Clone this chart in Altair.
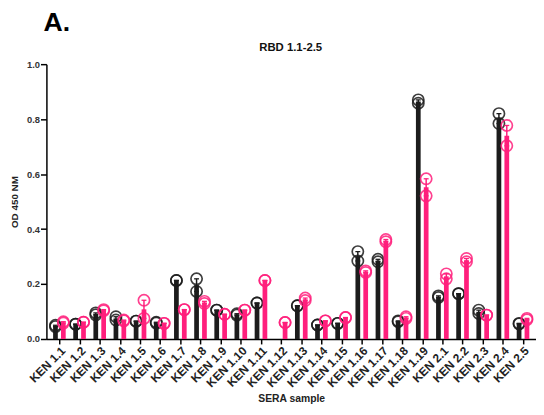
import json
import altair as alt
import pandas as pd

samples = ["KEN 1.1", "KEN 1.2", "KEN 1.3", "KEN 1.4", "KEN 1.5", "KEN 1.6", "KEN 1.7",
           "KEN 1.8", "KEN 1.9", "KEN 1.10", "KEN 1.11", "KEN 1.12", "KEN 1.13", "KEN 1.14",
           "KEN 1.15", "KEN 1.16", "KEN 1.17", "KEN 1.18", "KEN 1.19", "KEN 2.1", "KEN 2.2",
           "KEN 2.3", "KEN 2.4", "KEN 2.5"]

black_rep1 = [0.045, 0.054, 0.088, 0.081, 0.065, 0.061, 0.213, 0.219, 0.105, 0.087, 0.131, None,
              0.121, 0.051, 0.057, 0.318, 0.290, 0.066, 0.870, 0.157, 0.165, 0.105, 0.820, 0.057]
black_rep2 = [0.050, 0.054, 0.095, 0.069, 0.065, 0.058, 0.213, 0.173, 0.105, 0.092, 0.131, None,
              0.121, 0.051, 0.057, 0.284, 0.281, 0.063, 0.858, 0.151, 0.165, 0.093, 0.784, 0.055]
pink_rep1 = [0.063, 0.061, 0.107, 0.069, 0.141, 0.057, 0.107, 0.137, 0.090, 0.105, 0.213, 0.060,
             0.149, 0.066, 0.078, 0.248, 0.362, 0.081, 0.583, 0.237, 0.293, 0.087, 0.777, 0.075]
pink_rep2 = [0.058, 0.061, 0.103, 0.066, 0.075, 0.057, 0.107, 0.129, 0.090, 0.105, 0.213, 0.060,
             0.140, 0.066, 0.078, 0.242, 0.354, 0.075, 0.521, 0.219, 0.281, 0.087, 0.703, 0.070]

chart_title = "RBD 1.1-2.5"
panel_label = "A."

BLACK = "#1c1c1c"
PINK = "#ff1f7c"
FONT = "Liberation Sans"

rows = []
for i, s in enumerate(samples):
    for series, reps in (("black", (black_rep1, black_rep2)), ("pink", (pink_rep1, pink_rep2))):
        for r in reps:
            if r[i] is not None:
                rows.append({"idx": i, "sample": s, "series": series, "value": r[i]})
df = pd.DataFrame(rows)

labels_expr = json.dumps(samples) + "[datum.value]"

xscale = alt.Scale(domain=[-0.4, 23.4], nice=False, zero=False)
yscale = alt.Scale(domain=[0, 1.0], nice=False)

xaxis = alt.Axis(values=list(range(len(samples))), labelExpr=labels_expr, labelAngle=-45,
                 labelAlign="right", labelBaseline="top", labelFontSize=12,
                 labelFontWeight="bold", labelColor="#222", labelFont=FONT, labelPadding=1,
                 labelOverlap=False, labelBound=False,
                 tickColor="black", tickWidth=1.5, tickSize=5, domainColor="black",
                 domainWidth=1.5, grid=False, title="SERA sample", titleFont=FONT,
                 titleFontSize=10.5, titleFontWeight="bold", titleColor="#222", titlePadding=5)
yaxis = alt.Axis(values=[0, 0.2, 0.4, 0.6, 0.8, 1.0], format=".1f", labelFontSize=9.5,
                 labelFontWeight="bold", labelColor="#333", labelFont=FONT, labelPadding=1,
                 tickColor="black", tickWidth=1.5, tickSize=6, domainColor="black",
                 domainWidth=1.5, grid=False, title="OD 450 NM", titleFont=FONT,
                 titleFontSize=10, titleFontWeight="bold", titleColor="#222", titlePadding=7)

base = alt.Chart(df)


def X(field="idx:Q"):
    return alt.X(field, scale=xscale, axis=xaxis)


def Y(field):
    return alt.Y(field, scale=yscale, axis=yaxis)


def series_layers(series, color, off):
    sub = base.transform_filter(alt.datum.series == series)
    bars = sub.mark_bar(size=4.8, color=color, xOffset=off).encode(
        x=X(), y=Y("mean(value):Q"))
    err = sub.mark_rule(color=color, strokeWidth=1.5, xOffset=off).encode(
        x=X(), y=Y("min(value):Q"), y2="max(value):Q")
    cap_lo = sub.mark_tick(color=color, size=5, thickness=1.3, orient="horizontal",
                           xOffset=off).encode(x=X(), y=Y("min(value):Q"))
    cap_hi = sub.mark_tick(color=color, size=5, thickness=1.3, orient="horizontal",
                           xOffset=off).encode(x=X(), y=Y("max(value):Q"))
    pts = sub.mark_point(shape="circle", filled=False, size=130, strokeWidth=1.7,
                         color=color, opacity=0.85, xOffset=off).encode(
        x=X(), y=Y("value:Q"))
    return [bars, err, cap_lo, cap_hi, pts]


panel = alt.Chart(pd.DataFrame({"t": [panel_label]})).mark_text(
    font=FONT, fontSize=27, fontWeight="bold", align="left", baseline="alphabetic",
    color="black").encode(x=alt.value(-3), y=alt.value(-34), text="t:N")

title_txt = alt.Chart(pd.DataFrame({"t": [chart_title]})).mark_text(
    font=FONT, fontSize=11.5, fontWeight="bold", align="center", baseline="alphabetic",
    color="#111").encode(x=alt.value(248), y=alt.value(-13), text="t:N")

chart = alt.layer(
    *series_layers("black", BLACK, -4),
    *series_layers("pink", PINK, 4),
    panel,
    title_txt,
).properties(
    width=497, height=279,
    autosize=alt.AutoSizeParams(type="none"),
    padding={"left": 39, "top": 54, "right": 0, "bottom": 66},
).configure_view(stroke=None).configure_axisX(labelOverlap=False)

chart.save("out.html", embed_options={"renderer": "svg", "actions": False})
